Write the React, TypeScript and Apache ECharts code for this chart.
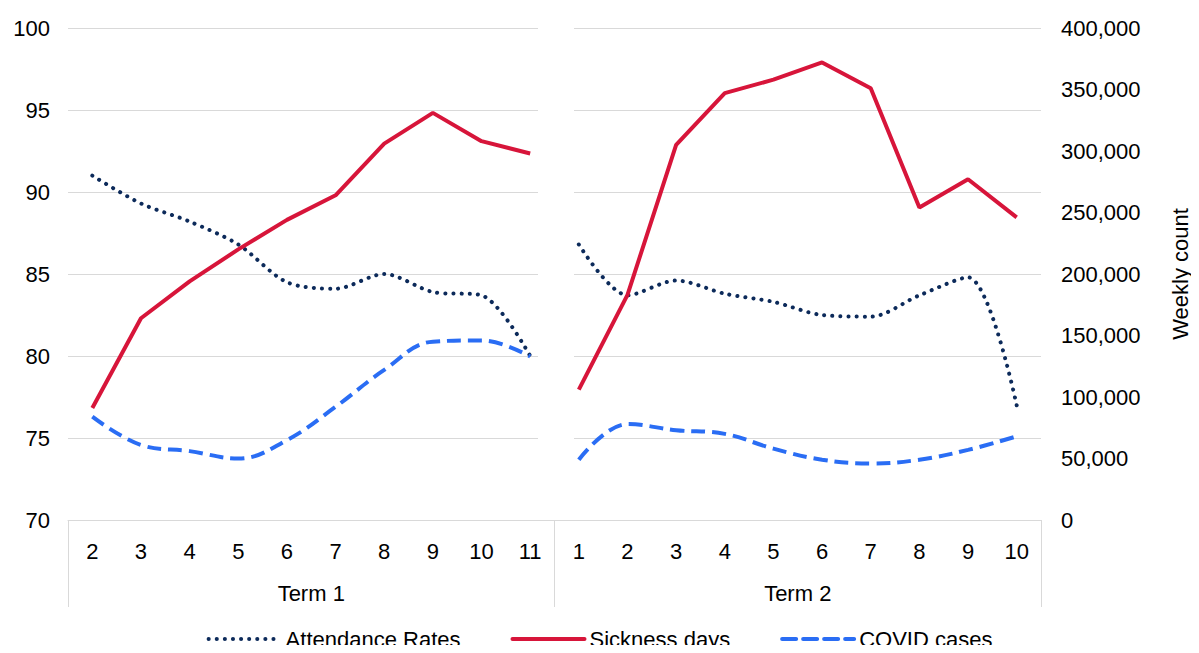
import React, { useEffect, useRef } from "react";
import * as echarts from "echarts";

const weeks = ["2", "3", "4", "5", "6", "7", "8", "9", "10", "11", "1", "2", "3", "4", "5", "6", "7", "8", "9", "10"];
const terms = ["Term 1", "Term 2"];
const attendT1 = [91, 89.3, 88.2, 86.8, 84.5, 84.1, 85, 83.9, 83.7, 80];
const attendT2 = [86.8, 83.7, 84.6, 83.8, 83.3, 82.5, 82.4, 83.7, 84.8, 77];
const sickT1 = [91000, 164000, 194000, 220000, 244000, 264000, 306000, 331000, 308000, 298000];
const sickT2 = [106000, 183000, 305000, 347000, 358000, 372000, 351000, 254000, 277000, 246000];
const covidT1 = [84000, 61000, 56000, 50000, 65000, 92000, 122000, 145000, 146000, 133000];
const covidT2 = [49000, 78000, 73000, 70000, 58000, 49000, 46000, 49000, 57000, 68000];

const pad = (a: number[], first: boolean) => {
  const n: (number | null)[] = Array(10).fill(null);
  return first ? [...a, ...n] : [...n, ...a];
};

const FONT = "Liberation Sans, Arial, sans-serif";
const FS = 22;

const App = () => {
  const chartRef = useRef<HTMLDivElement>(null);

  useEffect(() => {
    if (!chartRef.current) return;
    const chart = echarts.init(chartRef.current, undefined, { renderer: "svg" });

    const mk = (name: string, color: string, type: any, cap: any, yIdx: number, data: (number | null)[], smooth: any) => ({
      name,
      type: "line" as const,
      yAxisIndex: yIdx,
      data,
      symbol: "none",
      smooth,
      connectNulls: false,
      lineStyle: { color, type, width: 4, cap },
      itemStyle: { color },
      z: 2,
    });

    const navy = "#0c2a5a";
    const red = "#d7153a";
    const blue = "#2a6df4";

    chart.setOption({
      animation: false,
      backgroundColor: "#fff",
      textStyle: { fontFamily: FONT },
      grid: { left: 68, right: 154, top: 28, bottom: 133 },
      legend: {
        bottom: -2,
        left: "center",
        itemWidth: 72,
        itemHeight: 4,
        itemGap: 50,
        itemStyle: { opacity: 0 },
        lineStyle: { width: 4, cap: "round" },
        textStyle: { fontSize: FS, color: "#000", fontFamily: FONT },
        data: ["Attendance Rates", "Sickness days", "COVID cases"],
      },
      xAxis: [
        {
          type: "category",
          data: weeks,
          position: "bottom",
          axisLine: { lineStyle: { color: "#d9d9d9" } },
          axisTick: { show: false },
          axisLabel: { color: "#000", fontSize: FS, margin: 20, fontFamily: FONT },
        },
        {
          type: "category",
          data: terms,
          position: "bottom",
          axisLine: { show: false },
          axisTick: { show: true, length: 87, inside: false, lineStyle: { color: "#d9d9d9" } },
          axisLabel: { color: "#000", fontSize: FS, margin: 62, fontFamily: FONT },
        },
      ],
      yAxis: [
        {
          type: "value",
          min: 70,
          max: 100,
          interval: 5,
          axisLine: { show: false },
          axisTick: { show: false },
          splitLine: { lineStyle: { color: "#d9d9d9" } },
          axisLabel: { color: "#000", fontSize: FS, margin: 18, fontFamily: FONT },
        },
        {
          type: "value",
          min: 0,
          max: 400000,
          interval: 50000,
          name: "Weekly count",
          nameLocation: "middle",
          nameGap: 128,
          nameRotate: 90,
          nameTextStyle: { color: "#000", fontSize: FS, fontFamily: FONT },
          axisLine: { show: false },
          axisTick: { show: false },
          splitLine: { show: false },
          axisLabel: {
            color: "#000",
            fontSize: FS,
            margin: 20,
            fontFamily: FONT,
            formatter: (v: number) => v.toLocaleString("en-US"),
          },
        },
      ],
      graphic: [
        { type: "rect", shape: { x: 538, y: 20, width: 36, height: 499 }, style: { fill: "#fff" }, z: 1 },
      ],
      series: [
        mk("Attendance Rates", navy, [0.1, 8], "round", 0, pad(attendT1, true), 0.3),
        mk("Attendance Rates", navy, [0.1, 8], "round", 0, pad(attendT2, false), 0.3),
        mk("Sickness days", red, "solid", "butt", 1, pad(sickT1, true), false),
        mk("Sickness days", red, "solid", "butt", 1, pad(sickT2, false), false),
        mk("COVID cases", blue, [14, 7], "butt", 1, pad(covidT1, true), 0.4),
        mk("COVID cases", blue, [14, 7], "butt", 1, pad(covidT2, false), 0.4),
      ],
    });

    return () => chart.dispose();
  }, []);

  return <div ref={chartRef} style={{ width: 1199, height: 653, margin: -8 }} />;
};

export default App;
